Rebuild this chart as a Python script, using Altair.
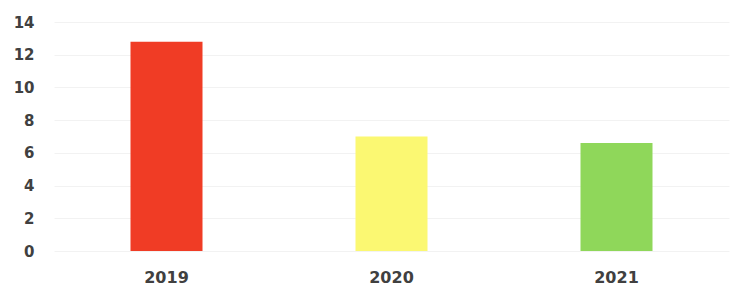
import altair as alt
import pandas as pd

years = ["2019", "2020", "2021"]
values = [12.8, 7.0, 6.6]
colors = ["#f03c25", "#fbf872", "#8fd75a"]

df = pd.DataFrame({"year": years, "value": values, "color": colors})

chart = alt.Chart(df).mark_bar().encode(
    x=alt.X("year:N", sort=years, title=None,
            scale=alt.Scale(paddingInner=0.68, paddingOuter=0.34),
            axis=alt.Axis(labelAngle=0, domain=False, ticks=False, grid=False,
                          labelPadding=18, labelFontSize=16)),
    y=alt.Y("value:Q", title=None,
            scale=alt.Scale(domain=[0, 14], nice=False),
            axis=alt.Axis(values=[0, 2, 4, 6, 8, 10, 12, 14], domain=False, ticks=False,
                          gridColor="#f2f2f2", labelPadding=20, labelFontSize=15)),
    color=alt.Color("color:N", scale=None),
).properties(
    width=675, height=229,
    autosize=alt.AutoSizeParams(type="none"),
    padding={"left": 46, "top": 14, "right": 9, "bottom": 43},
).configure_axis(
    labelFont="DejaVu Sans", labelFontWeight="bold", labelColor="#404040",
).configure_view(stroke=None)

chart.save("out.html", embed_options={"renderer": "svg", "actions": False})
